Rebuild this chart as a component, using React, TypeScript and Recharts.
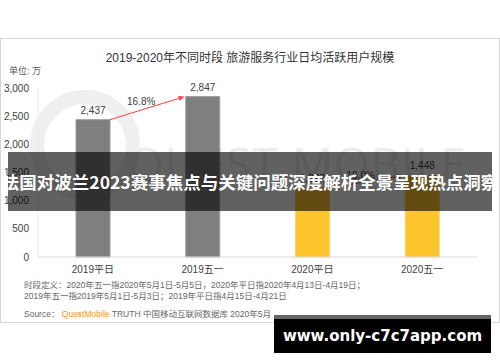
import React from "react"
import { Bar, BarChart, Cell, LabelList, ReferenceLine, XAxis, YAxis } from "recharts"

const categories = ["2019平日", "2019五一", "2020平日", "2020五一"]
const users = [2437, 2847, 1227, 1448]
const barColors = ["#7f7f7f", "#7f7f7f", "#fec42c", "#fec42c"]
const growthLabels = ["16.8%", "18.0%"]
const growthPairs = [[0, 1], [2, 3]]
const yTicks = [0, 500, 1000, 1500, 2000, 2500, 3000]

const data = categories.map((name, i) => ({ name, users: users[i] }))

const FONT = '"Liberation Sans", "Noto Sans CJK SC", sans-serif'
const HALF_BAR = 17

const fmt = (v: number) => v.toLocaleString("en-US")

const makeArrow = (label: string) => (props: any) => {
  const { x1, y1, x2, y2 } = props
  const sx = x1 + HALF_BAR
  const ex = x2 - HALF_BAR - 1
  const dx = ex - sx
  const dy = y2 - y1
  const len = Math.sqrt(dx * dx + dy * dy)
  const ux = dx / len
  const uy = dy / len
  const hx = ex - ux * 6
  const hy = y2 - uy * 6
  const mx = (sx + ex) / 2
  const my = (y1 + y2) / 2
  return (
    <g>
      <line x1={sx} y1={y1} x2={hx} y2={hy} stroke="#ff4040" strokeWidth={1} />
      <polygon
        points={`${ex},${y2} ${hx - uy * 2.5},${hy + ux * 2.5} ${hx + uy * 2.5},${hy - ux * 2.5}`}
        fill="#ff4040"
      />
      <text x={mx - 6} y={my - 3} textAnchor="middle" fontSize={10} fill="#404040" fontFamily={FONT}>
        {label}
      </text>
    </g>
  )
}

export default function App() {
  return (
    <div style={{ position: "absolute", left: 0, top: 0, width: 500, height: 362, background: "#fff", fontFamily: FONT, overflow: "hidden" }}>
      {/* card */}
      <div style={{ position: "absolute", left: 0, top: 38, width: 498, height: 283, border: "1px solid #d6d6d6" }} />
      {/* faint watermark */}
      <div style={{ position: "absolute", left: 30, top: 90, width: 110, height: 110, borderRadius: "50%", border: "14px solid #efefef", boxSizing: "border-box" }} />
      <div style={{ position: "absolute", left: 128, top: 132, fontSize: 46, color: "#ededed", fontFamily: '"Open Sans", sans-serif', letterSpacing: 1, whiteSpace: "nowrap" }}>
        QUEST MOBILE
      </div>
      <div style={{ position: "absolute", left: 0, top: 48, width: 500, textAlign: "center", fontSize: 12, color: "#333" }}>
        2019-2020年不同时段 旅游服务行业日均活跃用户规模
      </div>
      <div style={{ position: "absolute", left: 9, top: 64, fontSize: 9, color: "#595959" }}>单位: 万</div>
      <div style={{ position: "absolute", left: 0, top: 0 }}>
        <BarChart width={500} height={362} data={data} margin={{ top: 88, right: 23, bottom: 75, left: 8 }}>
          <XAxis
            dataKey="name"
            height={30}
            axisLine={{ stroke: "#d9d9d9" }}
            tickLine={false}
            tickSize={0}
            tickMargin={9}
            tick={{ fontSize: 10, fill: "#404040", fontFamily: FONT }}
          />
          <YAxis
            width={30}
            domain={[0, 3000]}
            ticks={yTicks}
            axisLine={{ stroke: "#ececec" }}
            tickLine={false}
            tickSize={0}
            tickMargin={9}
            tickFormatter={fmt}
            tick={{ fontSize: 10, fill: "#404040", fontFamily: FONT }}
          />
          <Bar dataKey="users" barSize={34} isAnimationActive={false}>
            {data.map((d, i) => (
              <Cell key={d.name} fill={barColors[i]} stroke={i < 2 ? "#9a9a9a" : "#fdd36a"} strokeWidth={1} />
            ))}
            <LabelList dataKey="users" position="top" offset={6} formatter={(v: any) => fmt(Number(v))} style={{ fontSize: 10, fill: "#404040", fontFamily: FONT }} />
          </Bar>
          {growthPairs.map(([a, b], i) => (
            <ReferenceLine
              key={i}
              ifOverflow="visible"
              segment={[{ x: categories[a], y: users[a] }, { x: categories[b], y: users[b] }]}
              shape={makeArrow(growthLabels[i])}
            />
          ))}
        </BarChart>
      </div>
      {/* notes */}
      <div style={{ position: "absolute", left: 24, top: 280, fontSize: 8.5, lineHeight: "11px", color: "#666", whiteSpace: "nowrap" }}>
        时段定义：2020年五一指2020年5月1日-5月5日，2020年平日指2020年4月13日-4月19日；
        <br />
        2019年五一指2019年5月1日-5月3日；2019年平日指4月15日-4月21日
      </div>
      <div style={{ position: "absolute", left: 24, top: 307, fontSize: 8.5, color: "#666", whiteSpace: "nowrap" }}>
        Source： <span style={{ color: "#f7941d" }}>QuestMobile</span> TRUTH 中国移动互联网数据库 2020年5月
      </div>
      {/* overlay banner */}
      <div style={{ position: "absolute", left: 8, top: 152, width: 484, height: 59, background: "rgba(0,0,0,0.62)", display: "flex", alignItems: "center", justifyContent: "center" }}>
        <span style={{ color: "#fff", fontWeight: 700, fontSize: 17.5, fontFamily: '"Noto Sans CJK SC", sans-serif', whiteSpace: "nowrap" }}>
          法国对波兰2023赛事焦点与关键问题深度解析全景呈现热点洞察
        </span>
      </div>
      <div style={{ position: "absolute", left: 274, top: 315, width: 217, height: 38, background: "#000", borderTop: "4px solid #666", boxSizing: "border-box", display: "flex", alignItems: "center", justifyContent: "center" }}>
        <span style={{ color: "#fff", fontWeight: 700, fontSize: 15, fontFamily: '"DejaVu Sans", sans-serif', whiteSpace: "nowrap" }}>
          www.only-c7c7app.com
        </span>
      </div>
    </div>
  )
}
